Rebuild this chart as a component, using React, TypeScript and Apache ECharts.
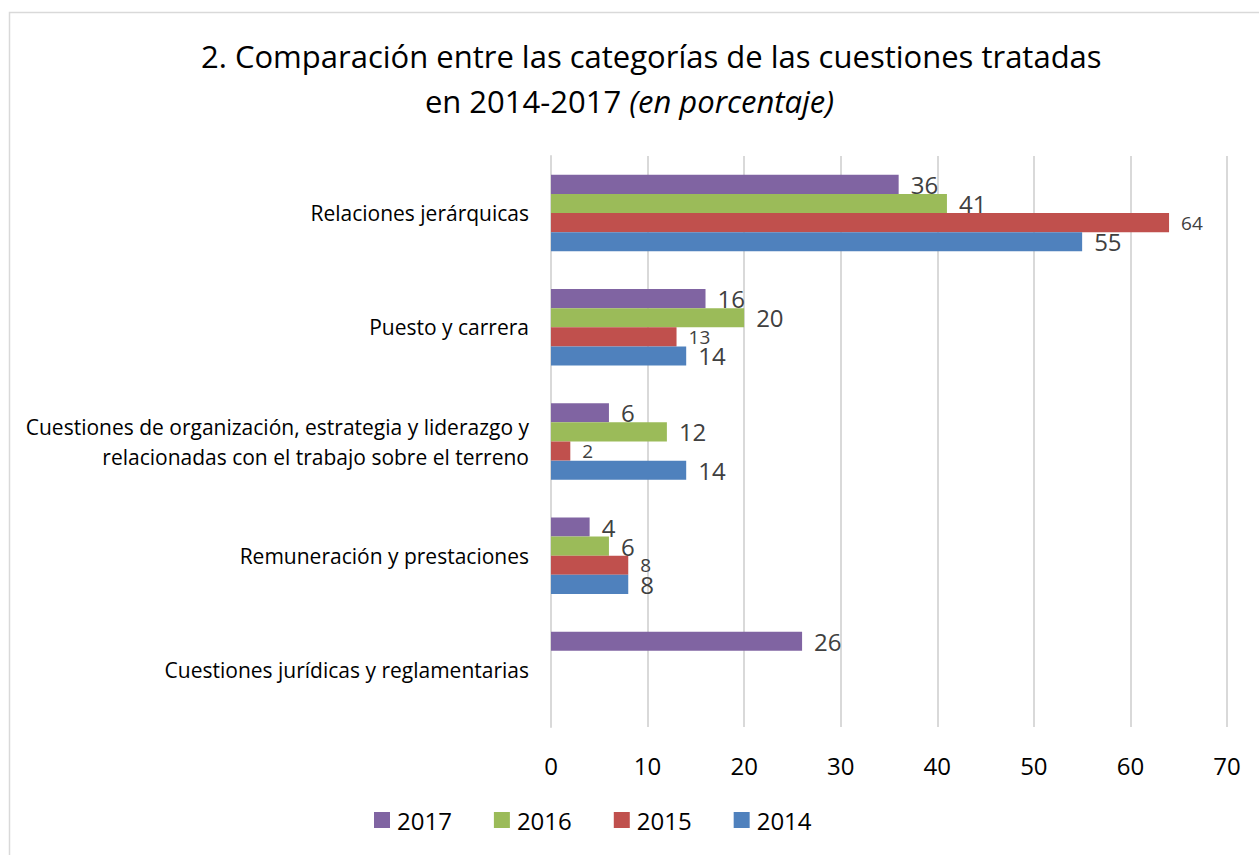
import React, { useEffect, useRef } from "react";
import * as echarts from "echarts";

const categories = [
  "Relaciones jerárquicas",
  "Puesto y carrera",
  "Cuestiones de organización, estrategia y liderazgo y relacionadas con el trabajo sobre el terreno",
  "Remuneración y prestaciones",
  "Cuestiones jurídicas y reglamentarias",
];
const years = ["2017", "2016", "2015", "2014"];
const values2017 = [36, 16, 6, 4, 26];
const values2016 = [41, 20, 12, 6, null];
const values2015 = [64, 13, 2, 8, null];
const values2014 = [55, 14, 14, 8, null];
const colors = ["#8064A2", "#9BBB59", "#C0504D", "#4F81BD"];
const labelSizes = [24, 24, 19, 24];
const xTicks = { min: 0, max: 70, interval: 10 };

const FONT = "'Open Sans', sans-serif";

export default function App() {
  const ref = useRef<HTMLDivElement>(null);
  useEffect(() => {
    const chart = echarts.init(ref.current!, null, { renderer: "svg" });
    const allValues = [values2017, values2016, values2015, values2014];
    chart.setOption({
      animation: false,
      backgroundColor: "#ffffff",
      textStyle: { fontFamily: FONT },
      graphic: [
        {
          type: "rect",
          shape: { x: 9.5, y: 12.5, width: 1300, height: 900 },
          style: { fill: "none", stroke: "#d9d9d9", lineWidth: 1.5 },
          silent: true,
        },
      ],
      title: [
        {
          text: "2. Comparación entre las categorías de las cuestiones tratadas",
          left: 196,
          top: 35,
          textStyle: { fontFamily: FONT, fontSize: 31, fontWeight: "normal", color: "#000000" },
        },
        {
          text: "{n|en 2014-2017 }{i|(en porcentaje)}",
          left: "center",
          top: 80,
          textStyle: {
            fontFamily: FONT,
            fontSize: 31,
            fontWeight: "normal",
            color: "#000000",
            rich: {
              n: { fontFamily: FONT, fontSize: 31, color: "#000000" },
              i: { fontFamily: FONT, fontSize: 31, fontStyle: "italic", color: "#000000" },
            },
          },
        },
      ],
      legend: {
        bottom: 18,
        left: 369,
        itemWidth: 16,
        itemHeight: 16,
        itemGap: 42,
        icon: "rect",
        textStyle: { fontFamily: FONT, fontSize: 24, color: "#000000", padding: [0, 0, 0, 2] },
        data: years,
      },
      grid: { left: 551, right: 32, top: 156, bottom: 128 },
      xAxis: {
        type: "value",
        min: xTicks.min,
        max: xTicks.max,
        interval: xTicks.interval,
        axisLine: { show: false },
        axisTick: { show: false },
        splitLine: { show: true, lineStyle: { color: "#d9d9d9", width: 2 } },
        axisLabel: { fontFamily: FONT, fontSize: 24, color: "#000000", margin: 26 },
      },
      yAxis: {
        type: "category",
        inverse: true,
        data: categories,
        axisLine: { show: true, lineStyle: { color: "#d9d9d9", width: 2 } },
        axisTick: { show: false },
        axisLabel: {
          fontFamily: FONT,
          fontSize: 21,
          color: "#000000",
          margin: 22,
          lineHeight: 30,
          align: "right",
          formatter: (v: string) => v.replace(" y relacionadas", " y\nrelacionadas"),
        },
      },
      series: years.map((y, i) => ({
        name: y,
        type: "bar",
        data: allValues[i],
        barGap: "0%",
        barCategoryGap: "33%",
        itemStyle: { color: colors[i] },
        label: {
          show: true,
          position: "right",
          distance: 12,
          fontFamily: FONT,
          fontSize: labelSizes[i],
          color: "#404040",
        },
      })),
    });
    return () => chart.dispose();
  }, []);
  return (
    <div
      ref={ref}
      style={{ position: "absolute", left: 0, top: 0, width: 1259, height: 855 }}
    />
  );
}
